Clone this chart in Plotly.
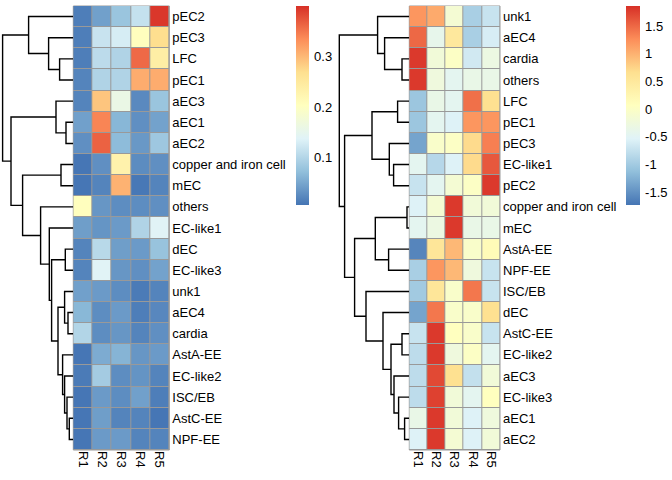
import plotly.graph_objects as go

# ---------------- data ----------------
COLUMNS = ["R1", "R2", "R3", "R4", "R5"]

LEFT_ROWS = ["pEC2", "pEC3", "LFC", "pEC1", "aEC3", "aEC1", "aEC2",
             "copper and iron cell", "mEC", "others", "EC-like1", "dEC",
             "EC-like3", "unk1", "aEC4", "cardia", "AstA-EE", "EC-like2",
             "ISC/EB", "AstC-EE", "NPF-EE"]
LEFT_VALUES = [
    [0.015, 0.045, 0.080, 0.115, 0.395],
    [0.015, 0.118, 0.130, 0.205, 0.270],
    [0.015, 0.108, 0.098, 0.360, 0.240],
    [0.020, 0.098, 0.098, 0.310, 0.310],
    [0.020, 0.290, 0.160, 0.025, 0.080],
    [0.045, 0.340, 0.065, 0.030, 0.047],
    [0.030, 0.365, 0.070, 0.038, 0.083],
    [0.008, 0.030, 0.230, 0.027, 0.030],
    [0.008, 0.020, 0.305, 0.010, 0.020],
    [0.205, 0.036, 0.028, 0.028, 0.030],
    [0.043, 0.035, 0.040, 0.098, 0.140],
    [0.020, 0.105, 0.043, 0.040, 0.078],
    [0.020, 0.140, 0.036, 0.030, 0.047],
    [0.045, 0.040, 0.028, 0.012, 0.020],
    [0.066, 0.028, 0.040, 0.015, 0.023],
    [0.100, 0.028, 0.036, 0.020, 0.030],
    [0.008, 0.055, 0.063, 0.036, 0.040],
    [0.012, 0.088, 0.028, 0.034, 0.020],
    [0.008, 0.040, 0.028, 0.045, 0.015],
    [0.008, 0.043, 0.020, 0.020, 0.008],
    [0.008, 0.040, 0.040, 0.020, 0.020],
]
# row dendrogram: (child a, child b, merge height); leaves 0..20, merge k -> node 21+k
LEFT_MERGES = [
    (2, 3, 13.7), (1, 21, 24.7), (0, 22, 44.7), (5, 6, 7.3), (4, 24, 17.3),
    (7, 8, 12.3), (19, 20, 4.0), (18, 27, 6.3), (17, 28, 8.7), (16, 29, 10.7),
    (14, 15, 5.3), (13, 31, 8.7), (32, 30, 15.3), (11, 12, 8.0), (34, 33, 21.7),
    (10, 35, 24.0), (9, 36, 32.7), (26, 37, 50.7), (25, 38, 62.3), (23, 39, 70.7),
]
LEFT_RANGE = [0.007, 0.400]
LEFT_TICKS = [0.1, 0.2, 0.3]

RIGHT_ROWS = ["unk1", "aEC4", "cardia", "others", "LFC", "pEC1", "pEC3",
              "EC-like1", "pEC2", "copper and iron cell", "mEC", "AstA-EE",
              "NPF-EE", "ISC/EB", "dEC", "AstC-EE", "EC-like2", "aEC3",
              "EC-like3", "aEC1", "aEC2"]
RIGHT_VALUES = [
    [1.20, 1.05, -0.15, -0.95, -0.72],
    [1.50, -0.40, 0.50, -0.95, -0.60],
    [1.80, -0.20, 0.00, -0.65, -0.30],
    [1.80, -0.25, -0.45, -0.35, -0.35],
    [-1.05, -0.35, -0.45, 1.45, 0.65],
    [-1.05, -0.45, -0.55, 1.20, 1.20],
    [-1.35, -0.05, 0.00, 0.70, 1.35],
    [-0.45, -0.85, -0.55, 0.70, 1.60],
    [-0.72, -0.45, -0.15, 0.00, 1.80],
    [-0.55, -0.15, 1.80, -0.20, -0.20],
    [-0.45, -0.30, 1.80, -0.35, -0.35],
    [-1.60, 0.55, 0.95, -0.05, 0.15],
    [-0.95, 1.20, 0.95, -0.25, -0.72],
    [-1.00, 0.55, -0.05, 1.40, -0.72],
    [-1.35, 1.40, -0.05, -0.05, 0.65],
    [-0.72, 1.80, 0.07, -0.05, -0.72],
    [-0.80, 1.80, -0.25, 0.00, -0.45],
    [-0.80, 1.70, 0.65, -0.75, -0.20],
    [-0.80, 1.75, -0.20, -0.45, 0.07],
    [-0.35, 1.80, -0.20, -0.55, -0.25],
    [-0.55, 1.80, -0.15, -0.55, -0.20],
]
RIGHT_MERGES = [
    (2, 3, 7.3), (1, 21, 24.7), (0, 22, 31.7), (4, 5, 11.7), (7, 8, 15.7),
    (6, 25, 20.0), (24, 26, 37.3), (9, 10, 2.3), (11, 12, 20.7), (28, 29, 34.0),
    (19, 20, 4.7), (18, 31, 10.7), (17, 32, 15.3), (15, 16, 7.3), (34, 33, 18.3),
    (14, 35, 26.3), (13, 36, 43.3), (30, 37, 54.7), (27, 38, 64.7), (23, 39, 70.0),
]
RIGHT_RANGE = [-1.73, 1.86]
RIGHT_TICKS = [-1.5, -1, -0.5, 0, 0.5, 1, 1.5]

# ---------------- styling ----------------
W, H = 672, 480
FONT = "Liberation Sans, Arial, sans-serif"
FS = 13
COLORSCALE = [[0, "#4575B4"], [1 / 6, "#91BFDB"], [2 / 6, "#E0F3F8"],
              [3 / 6, "#FFFFBF"], [4 / 6, "#FEE090"], [5 / 6, "#FC8D59"],
              [1, "#D73027"]]


def px(x):
    return x / W


def py(y):
    return 1 - y / H


Y_DOM = [py(450), py(6)]


def dendro_paths(merges, n):
    pos = {i: float(i) for i in range(n)}
    hgt = {i: 0.0 for i in range(n)}
    xs, ys = [], []
    for k, (a, b, h) in enumerate(merges):
        node = n + k
        xs += [hgt[a], h, h, hgt[b], None]
        ys += [pos[a], pos[a], pos[b], pos[b], None]
        pos[node] = (pos[a] + pos[b]) / 2
        hgt[node] = h
    return xs, ys


def fmt(v):
    return ("%g" % v)


def cbar(x, ticks, thick):
    return dict(x=px(x), xanchor="left", y=py(6), yanchor="top",
                len=199 / H, lenmode="fraction", thickness=thick, thicknessmode="pixels",
                outlinewidth=0, ticks="outside", ticklen=3, tickcolor="rgba(0,0,0,0)",
                tickvals=ticks, ticktext=[fmt(v) for v in ticks], xpad=0, ypad=0,
                tickfont=dict(size=FS, color="black", family=FONT))


fig = go.Figure()

# left dendrogram
lx, ly = dendro_paths(LEFT_MERGES, len(LEFT_ROWS))
fig.add_trace(go.Scatter(x=lx, y=ly, mode="lines", line=dict(color="black", width=1.4),
                         hoverinfo="skip", showlegend=False, xaxis="x", yaxis="y"))
# left heatmap
fig.add_trace(go.Heatmap(
    z=LEFT_VALUES, x=list(range(len(COLUMNS))), y=list(range(len(LEFT_ROWS))),
    colorscale=COLORSCALE, zmin=LEFT_RANGE[0], zmax=LEFT_RANGE[1],
    xgap=1, ygap=1, xaxis="x2", yaxis="y2", colorbar=cbar(296, LEFT_TICKS, 13)))

# right dendrogram
rx, ry = dendro_paths(RIGHT_MERGES, len(RIGHT_ROWS))
fig.add_trace(go.Scatter(x=rx, y=ry, mode="lines", line=dict(color="black", width=1.4),
                         hoverinfo="skip", showlegend=False, xaxis="x3", yaxis="y3"))
# right heatmap
fig.add_trace(go.Heatmap(
    z=RIGHT_VALUES, x=list(range(len(COLUMNS))), y=list(range(len(RIGHT_ROWS))),
    colorscale=COLORSCALE, zmin=RIGHT_RANGE[0], zmax=RIGHT_RANGE[1],
    xgap=1, ygap=1, xaxis="x4", yaxis="y4", colorbar=cbar(626, RIGHT_TICKS, 14)))

n = len(LEFT_ROWS)
yrange = [n - 0.5, -0.5]
hidden = dict(visible=False, showgrid=False, zeroline=False)
heat_x = dict(range=[-0.5, len(COLUMNS) - 0.5], tickvals=list(range(len(COLUMNS))),
              ticktext=COLUMNS, tickangle=90, ticks="", showgrid=False, zeroline=False,
              showline=False, tickfont=dict(size=FS, color="black", family=FONT))
heat_y = dict(domain=Y_DOM, range=yrange, side="right", tickvals=list(range(n)),
              ticks="", showgrid=False, zeroline=False, showline=False,
              ticklabelstandoff=2, tickfont=dict(size=FS, color="black", family=FONT))

fig.update_layout(
    width=W, height=H, margin=dict(l=0, r=0, t=0, b=0, pad=0),
    paper_bgcolor="white", plot_bgcolor="white",
    font=dict(family=FONT, size=FS, color="black"),
    xaxis=dict(domain=[0, px(73.3)], range=[73.3, 0], anchor="y", **hidden),
    yaxis=dict(domain=Y_DOM, range=yrange, anchor="x", **hidden),
    xaxis2=dict(domain=[px(73.3), px(169.3)], anchor="y2", **heat_x),
    yaxis2=dict(anchor="x2", ticktext=LEFT_ROWS, **heat_y),
    xaxis3=dict(domain=[px(335.3), px(409.3)], range=[74, 0], anchor="y3", **hidden),
    yaxis3=dict(domain=Y_DOM, range=yrange, anchor="x3", **hidden),
    xaxis4=dict(domain=[px(409.3), px(500)], anchor="y4", **heat_x),
    yaxis4=dict(anchor="x4", ticktext=RIGHT_ROWS, **heat_y),
    shapes=[
        dict(type="rect", xref="x2 domain", yref="y2 domain", x0=0, x1=1, y0=0, y1=1,
             fillcolor="#999999", line=dict(color="#999999", width=1), layer="below"),
        dict(type="rect", xref="x4 domain", yref="y4 domain", x0=0, x1=1, y0=0, y1=1,
             fillcolor="#999999", line=dict(color="#999999", width=1), layer="below"),
    ],
)

fig.write_html("out.html", config={"displayModeBar": False},
               post_script="document.body.style.margin='0px';document.body.style.padding='0px';")
